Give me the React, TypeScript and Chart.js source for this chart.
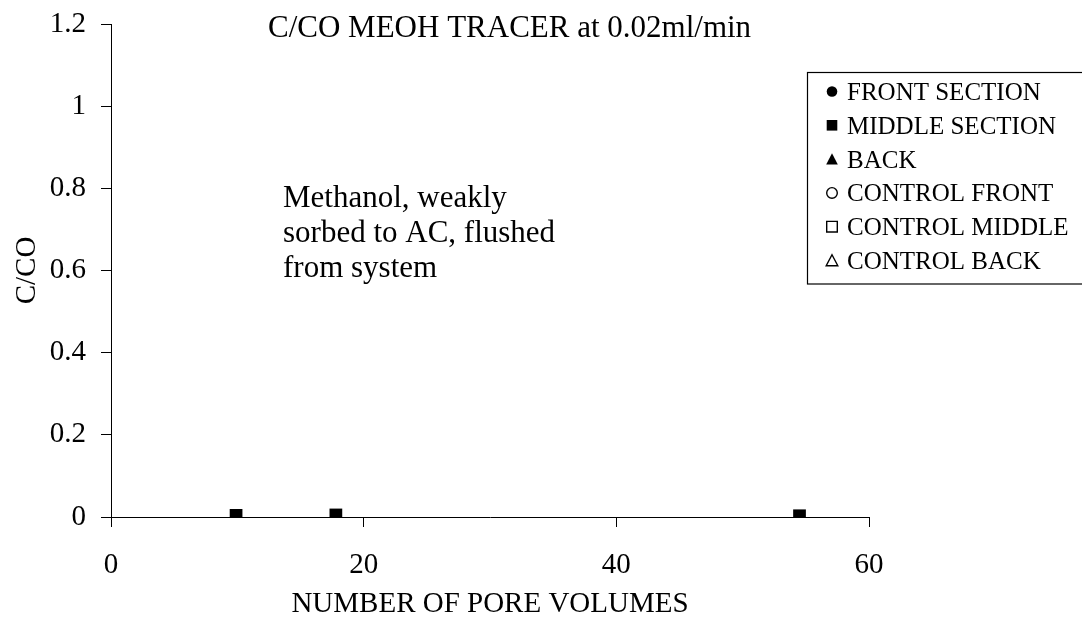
import React, { useEffect, useRef } from "react";
import { Chart, registerables } from "chart.js";

Chart.register(...registerables);

const seriesNames = [
  "FRONT SECTION",
  "MIDDLE SECTION",
  "BACK",
  "CONTROL FRONT",
  "CONTROL MIDDLE",
  "CONTROL BACK",
];
const seriesStyles = ["circle", "rect", "triangle", "circle", "rect", "triangle"];
const seriesFilled = [true, true, true, false, false, false];

const middleX = [9.9, 17.8, 54.5];
const middleY = [0.004, 0.005, 0.003];

const xTicks = [0, 20, 40, 60];
const yTickLabels = ["0", "0.2", "0.4", "0.6", "0.8", "1", "1.2"];

const chartTitle = "C/CO MEOH TRACER at 0.02ml/min";
const noteLines = ["Methanol, weakly", "sorbed to AC, flushed", "from system"];
const xTitle = "NUMBER OF PORE VOLUMES";
const yTitle = "C/CO";

const FONT = "'Liberation Serif', 'Times New Roman', serif";

function drawMarker(ctx: CanvasRenderingContext2D, style: string, filled: boolean, x: number, y: number) {
  ctx.save();
  ctx.beginPath();
  const r = 5.3;
  if (style === "circle") {
    ctx.arc(x, y, r, 0, Math.PI * 2);
  } else if (style === "rect") {
    ctx.rect(x - r, y - r, 2 * r, 2 * r);
  } else {
    ctx.moveTo(x, y - r - 0.5);
    ctx.lineTo(x + r + 0.5, y + r);
    ctx.lineTo(x - r - 0.5, y + r);
    ctx.closePath();
  }
  if (filled) {
    ctx.fillStyle = "#000";
    ctx.fill();
  } else {
    ctx.strokeStyle = "#000";
    ctx.lineWidth = 1.4;
    ctx.stroke();
  }
  ctx.restore();
}

const overlayPlugin = {
  id: "overlay",
  afterDraw(chart: any) {
    const ctx: CanvasRenderingContext2D = chart.ctx;
    ctx.save();
    ctx.fillStyle = "#000";
    ctx.textBaseline = "alphabetic";
    ctx.textAlign = "left";
    ctx.font = `31px ${FONT}`;
    ctx.fillText(chartTitle, 268, 37);
    ctx.font = `31px ${FONT}`;
    noteLines.forEach((t, i) => ctx.fillText(t, 283, 207 + i * 35));

    // legend
    ctx.strokeStyle = "#000";
    ctx.lineWidth = 1.2;
    ctx.strokeRect(807.5, 72.5, 290, 211.5);
    ctx.font = `25px ${FONT}`;
    seriesNames.forEach((name, i) => {
      const base = 100 + i * 33.8;
      drawMarker(ctx, seriesStyles[i], seriesFilled[i], 832, base - 8.5);
      ctx.fillStyle = "#000";
      ctx.fillText(name, 847, base);
    });
    ctx.restore();
  },
};

export default function App() {
  const ref = useRef<HTMLCanvasElement | null>(null);
  useEffect(() => {
    if (!ref.current) return;
    const datasets = seriesNames.map((name, i) => ({
      label: name,
      data: i === 1 ? middleX.map((x, j) => ({ x, y: middleY[j] })) : [],
      pointStyle: seriesStyles[i],
      pointRadius: 9,
      pointHoverRadius: 9,
      backgroundColor: seriesFilled[i] ? "#000" : "#fff",
      borderColor: "#000",
      borderWidth: 0,
      showLine: false,
    }));
    const chart = new Chart(ref.current, {
      type: "scatter",
      data: { datasets },
      plugins: [overlayPlugin],
      options: {
        animation: false,
        responsive: true,
        maintainAspectRatio: false,
        layout: { padding: { top: 24, right: 213, left: 0, bottom: 0 } },
        plugins: { legend: { display: false }, title: { display: false }, tooltip: { enabled: false } },
        scales: {
          x: {
            type: "linear",
            min: 0,
            max: 60,
            afterBuildTicks: (s: any) => {
              s.ticks = xTicks.map((v) => ({ value: v }));
            },
            afterFit: (s: any) => {
              s.height = 104;
              s.paddingLeft = 0;
              s.paddingRight = 0;
            },
            ticks: {
              color: "#000",
              font: { family: FONT, size: 29 },
              padding: 21,
              maxRotation: 0,
            },
            grid: { drawOnChartArea: false, drawTicks: true, tickLength: 10, color: "#000", lineWidth: 1 },
            border: { color: "#000", width: 1 },
            title: {
              display: true,
              text: xTitle,
              color: "#000",
              font: { family: FONT, size: 29 },
              padding: { top: 0, bottom: -1 },
            },
          },
          y: {
            type: "linear",
            min: 0,
            max: 1.2,
            afterBuildTicks: (s: any) => {
              s.ticks = yTickLabels.map((l) => ({ value: parseFloat(l) }));
            },
            afterFit: (s: any) => {
              s.width = 111;
              s.paddingTop = 0;
              s.paddingBottom = 0;
            },
            ticks: {
              color: "#000",
              font: { family: FONT, size: 29 },
              padding: 15,
              callback: (v: any) => {
                const idx = yTickLabels.findIndex((l) => Math.abs(parseFloat(l) - v) < 1e-9);
                return idx >= 0 ? yTickLabels[idx] : "";
              },
            },
            grid: { drawOnChartArea: false, drawTicks: true, tickLength: 10, color: "#000", lineWidth: 1 },
            border: { color: "#000", width: 1 },
            title: {
              display: true,
              text: yTitle,
              color: "#000",
              font: { family: FONT, size: 29 },
              padding: { top: 10, bottom: 0 },
            },
          },
        },
      },
    } as any);
    return () => chart.destroy();
  }, []);
  return (
    <div style={{ position: "absolute", left: 0, top: 0, width: 1082, height: 621, background: "#fff" }}>
      <canvas ref={ref} />
    </div>
  );
}
